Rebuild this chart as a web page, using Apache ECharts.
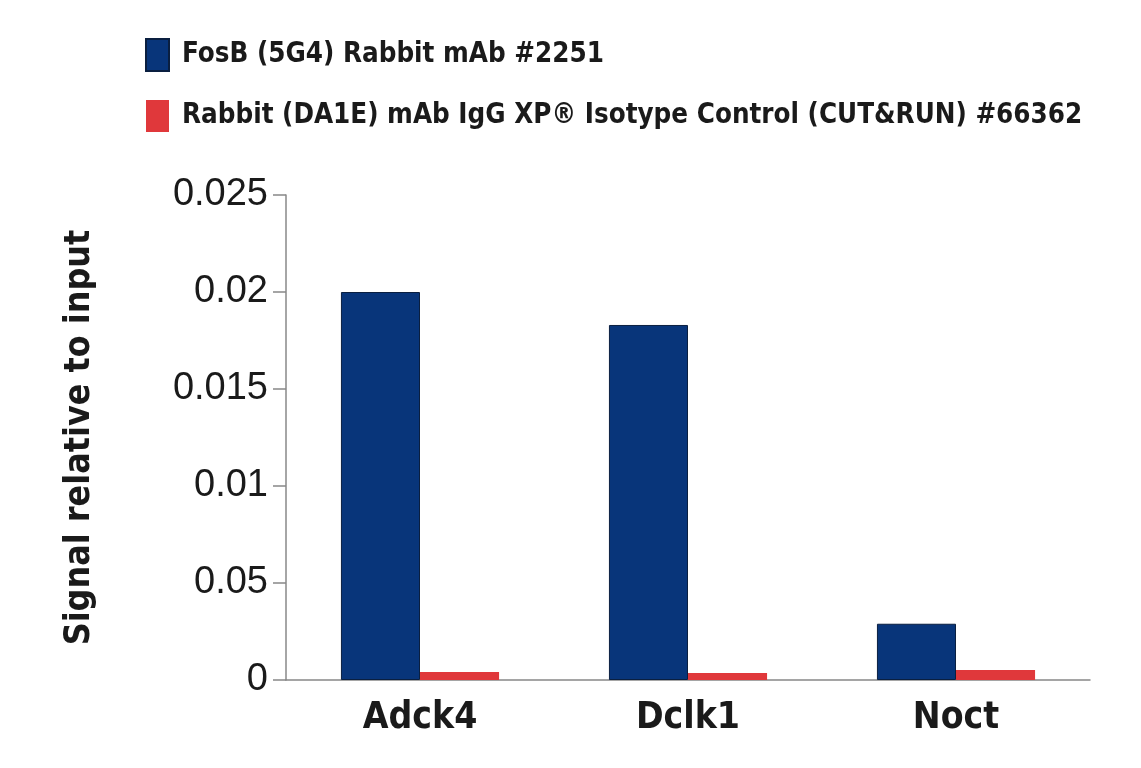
<!DOCTYPE html>
<html>
<head>
<meta charset="utf-8">
<script src="https://cdn.jsdelivr.net/npm/echarts@6/dist/echarts.min.js"></script>
<style>
html,body{margin:0;padding:0;background:#fff;}
#c{width:1141px;height:768px;}
</style>
</head>
<body>
<div id="c"></div>
<script>
const categories = ['Adck4', 'Dclk1', 'Noct'];
const seriesNames = ['FosB (5G4) Rabbit mAb #2251', 'Rabbit (DA1E) mAb IgG XP\u00AE Isotype Control (CUT&RUN) #66362'];
const fosbValues = [0.0200, 0.0183, 0.0029];
const controlValues = [0.00041, 0.00036, 0.00052];
const yTickLabels = ['0', '0.05', '0.01', '0.015', '0.02', '0.025'];

const condensed = '"DejaVu Sans Condensed", "DejaVu Sans", sans-serif';
const chart = echarts.init(document.getElementById('c'));
chart.setOption({
  backgroundColor: '#fff',
  animation: false,
  legend: {
    orient: 'vertical',
    left: 145,
    top: 38,
    padding: 0,
    itemWidth: 23,
    itemHeight: 32,
    itemGap: 28,
    icon: 'rect',
    textStyle: { fontFamily: condensed, fontWeight: 'bold', fontSize: 27.5, color: '#1a1a1a', padding: [8, 0, 0, 8] },
    data: seriesNames
  },
  grid: { left: 286, right: 51, top: 195, bottom: 88, containLabel: false },
  xAxis: {
    type: 'category',
    data: categories,
    axisLine: { lineStyle: { color: '#888', width: 1.5 } },
    axisTick: { show: false },
    axisLabel: { fontFamily: condensed, fontWeight: 'bold', fontSize: 37, color: '#1a1a1a', margin: 20 }
  },
  yAxis: {
    type: 'value',
    min: 0,
    max: 0.025,
    interval: 0.005,
    name: 'Signal relative to input',
    nameLocation: 'middle',
    nameGap: 188,
    nameTextStyle: { fontFamily: condensed, fontWeight: 'bold', fontSize: 35.5, color: '#1a1a1a' },
    axisLine: { show: true, lineStyle: { color: '#888', width: 1.5 } },
    axisTick: { show: true, length: 13, lineStyle: { color: '#888', width: 1.5 } },
    splitLine: { show: false },
    axisLabel: {
      fontFamily: '"Liberation Sans", Arial, sans-serif',
      fontSize: 38,
      color: '#1a1a1a',
      margin: 18,
      formatter: function (v, i) { return yTickLabels[i]; }
    }
  },
  series: [
    {
      name: seriesNames[0],
      type: 'bar',
      data: fosbValues,
      barGap: '0%',
      barCategoryGap: '41%',
      itemStyle: { color: '#08357a', borderColor: '#0a1f40', borderWidth: 1 }
    },
    {
      name: seriesNames[1],
      type: 'bar',
      data: controlValues,
      itemStyle: { color: '#e0383b' }
    }
  ]
});
</script>
</body>
</html>
